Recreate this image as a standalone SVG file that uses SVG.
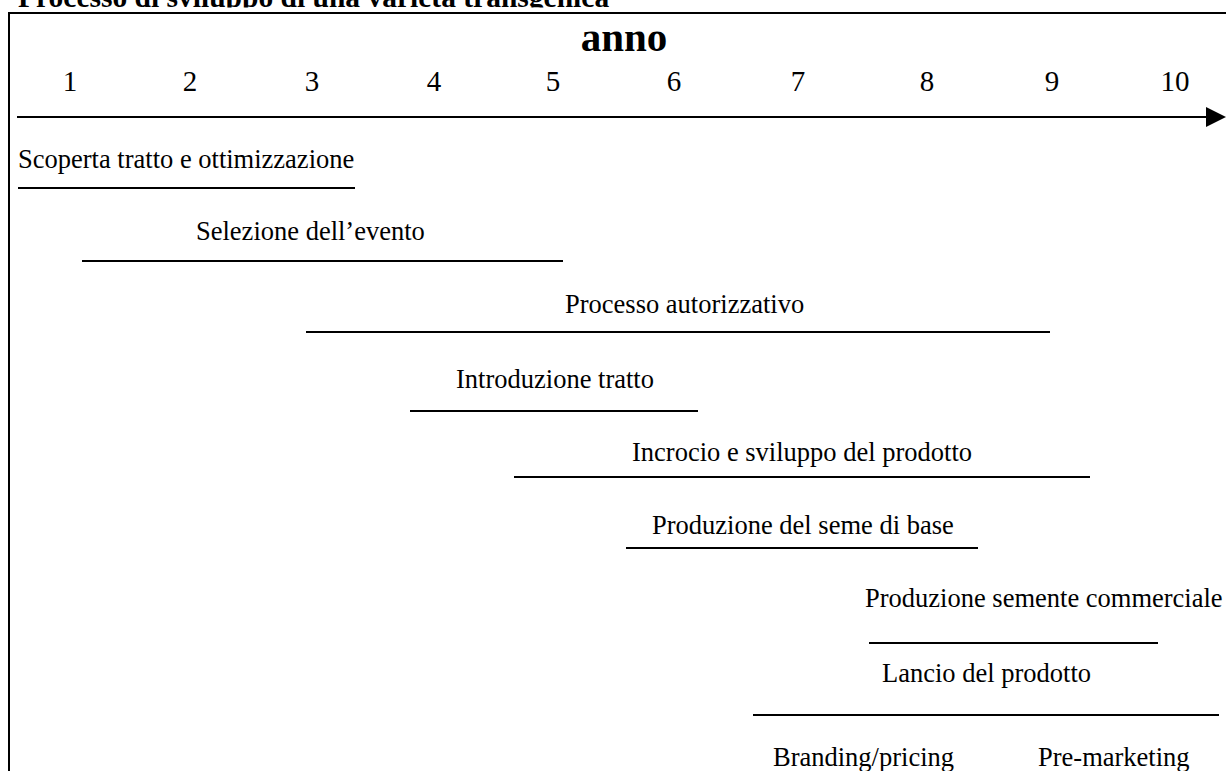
<svg xmlns="http://www.w3.org/2000/svg" width="1226" height="771" viewBox="0 0 1226 771">
<defs>
<style>
.t{font-family:"Liberation Serif","Times New Roman",serif;font-size:26.5px;fill:#000}
.n{font-family:"Liberation Serif","Times New Roman",serif;font-size:29px;fill:#000;text-anchor:middle}
.h{font-family:"Liberation Serif","Times New Roman",serif;font-weight:bold;fill:#000}
.l{stroke:#000;stroke-width:2;fill:none}
</style>
<clipPath id="titleclip"><rect x="0" y="0" width="1226" height="7.5"/></clipPath>
</defs>
<rect width="1226" height="771" fill="#fff"/>
<g id="title" clip-path="url(#titleclip)">
<text class="h" x="18" y="6.5" font-size="29.5">Processo di sviluppo di una varietà transgenica</text>
</g>
<g id="frame">
<path class="l" d="M9,771 V13 H1226"/>
</g>
<g id="axis">
<text class="h" x="624" y="51" font-size="41" text-anchor="middle">anno</text>
<text class="n" x="70" y="91">1</text>
<text class="n" x="190" y="91">2</text>
<text class="n" x="312" y="91">3</text>
<text class="n" x="434" y="91">4</text>
<text class="n" x="553" y="91">5</text>
<text class="n" x="674" y="91">6</text>
<text class="n" x="798" y="91">7</text>
<text class="n" x="927" y="91">8</text>
<text class="n" x="1052" y="91">9</text>
<text class="n" x="1175" y="91">10</text>
</g>
<g id="connectors">
<line class="l" x1="17" y1="117" x2="1207" y2="117"/>
<path d="M1206,107 L1226,117 L1206,127 Z" fill="#000"/>
<line class="l" x1="18" y1="188" x2="355" y2="188"/>
<line class="l" x1="82" y1="261" x2="563" y2="261"/>
<line class="l" x1="306" y1="332" x2="1050" y2="332"/>
<line class="l" x1="410" y1="411" x2="698" y2="411"/>
<line class="l" x1="514" y1="477" x2="1090" y2="477"/>
<line class="l" x1="626" y1="548" x2="978" y2="548"/>
<line class="l" x1="869" y1="643" x2="1158" y2="643"/>
<line class="l" x1="753" y1="715" x2="1219" y2="715"/>
</g>
<g id="phase1"><text class="t" x="18" y="168">Scoperta tratto e ottimizzazione</text></g>
<g id="phase2"><text class="t" x="196" y="240">Selezione dell’evento</text></g>
<g id="phase3"><text class="t" x="565" y="313">Processo autorizzativo</text></g>
<g id="phase4"><text class="t" x="456" y="388">Introduzione tratto</text></g>
<g id="phase5"><text class="t" x="632" y="461">Incrocio e sviluppo del prodotto</text></g>
<g id="phase6"><text class="t" x="652" y="534">Produzione del seme di base</text></g>
<g id="phase7"><text class="t" x="865" y="607">Produzione semente commerciale</text></g>
<g id="phase8"><text class="t" x="882" y="682">Lancio del prodotto</text></g>
<g id="phase9"><text class="t" x="773" y="766">Branding/pricing</text></g>
<g id="phase10"><text class="t" x="1038" y="766">Pre-marketing</text></g>
</svg>
